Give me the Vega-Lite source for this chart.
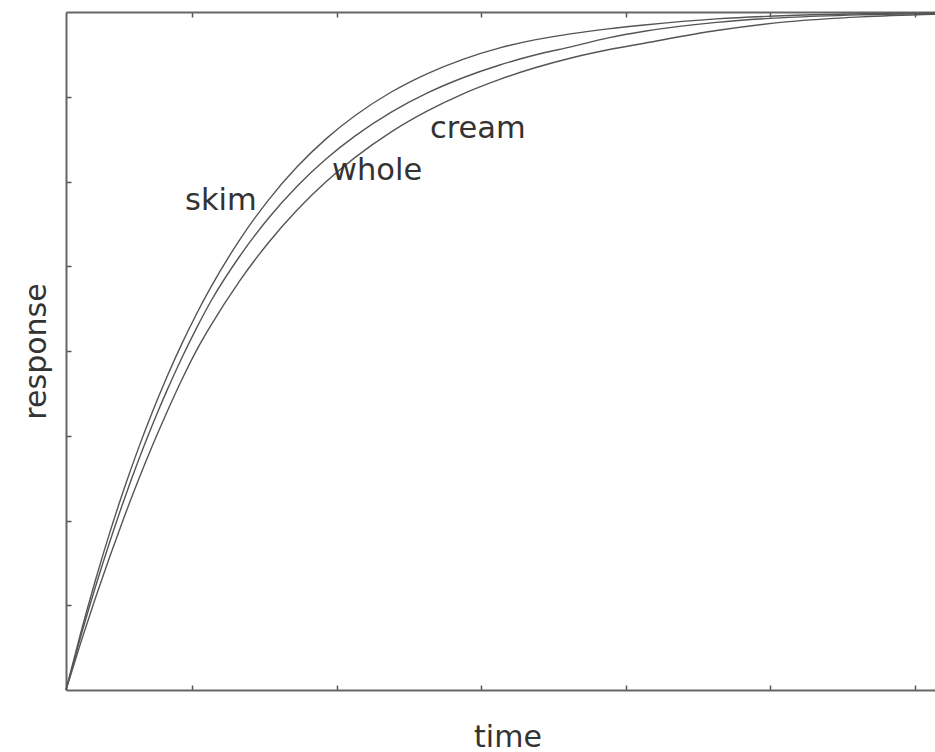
{
  "$schema": "https://vega.github.io/schema/vega-lite/v6.json",
  "width": 869,
  "height": 678,
  "autosize": "none",
  "padding": {"left": 66, "top": 12, "right": 0, "bottom": 62},
  "background": "white",
  "config": {"view": {"stroke": null}, "font": "DejaVu Sans"},
  "datasets": {
    "curves": [
      {"series": "skim", "t": 0, "v": 0},
      {"series": "skim", "t": 0.1, "v": 0.662},
      {"series": "skim", "t": 0.2, "v": 1.275},
      {"series": "skim", "t": 0.3, "v": 1.842},
      {"series": "skim", "t": 0.4, "v": 2.365},
      {"series": "skim", "t": 0.5, "v": 2.848},
      {"series": "skim", "t": 0.6, "v": 3.293},
      {"series": "skim", "t": 0.7, "v": 3.703},
      {"series": "skim", "t": 0.8, "v": 4.081},
      {"series": "skim", "t": 0.9, "v": 4.428},
      {"series": "skim", "t": 1.0, "v": 4.747},
      {"series": "skim", "t": 1.2, "v": 5.309},
      {"series": "skim", "t": 1.4, "v": 5.781},
      {"series": "skim", "t": 1.6, "v": 6.176},
      {"series": "skim", "t": 1.8, "v": 6.506},
      {"series": "skim", "t": 2.0, "v": 6.779},
      {"series": "skim", "t": 2.25, "v": 7.056},
      {"series": "skim", "t": 2.5, "v": 7.274},
      {"series": "skim", "t": 2.75, "v": 7.445},
      {"series": "skim", "t": 3.0, "v": 7.577},
      {"series": "skim", "t": 3.25, "v": 7.674},
      {"series": "skim", "t": 3.5, "v": 7.745},
      {"series": "skim", "t": 3.75, "v": 7.801},
      {"series": "skim", "t": 4.0, "v": 7.847},
      {"series": "skim", "t": 4.5, "v": 7.919},
      {"series": "skim", "t": 5.0, "v": 7.958},
      {"series": "skim", "t": 5.5, "v": 7.979},
      {"series": "skim", "t": 6.01, "v": 7.989},
      {"series": "whole", "t": 0, "v": 0},
      {"series": "whole", "t": 0.1, "v": 0.619},
      {"series": "whole", "t": 0.2, "v": 1.197},
      {"series": "whole", "t": 0.3, "v": 1.735},
      {"series": "whole", "t": 0.4, "v": 2.237},
      {"series": "whole", "t": 0.5, "v": 2.704},
      {"series": "whole", "t": 0.6, "v": 3.138},
      {"series": "whole", "t": 0.7, "v": 3.541},
      {"series": "whole", "t": 0.8, "v": 3.914},
      {"series": "whole", "t": 0.9, "v": 4.261},
      {"series": "whole", "t": 1.0, "v": 4.581},
      {"series": "whole", "t": 1.2, "v": 5.115},
      {"series": "whole", "t": 1.4, "v": 5.566},
      {"series": "whole", "t": 1.6, "v": 5.947},
      {"series": "whole", "t": 1.8, "v": 6.268},
      {"series": "whole", "t": 2.0, "v": 6.538},
      {"series": "whole", "t": 2.25, "v": 6.818},
      {"series": "whole", "t": 2.5, "v": 7.045},
      {"series": "whole", "t": 2.75, "v": 7.227},
      {"series": "whole", "t": 3.0, "v": 7.375},
      {"series": "whole", "t": 3.25, "v": 7.495},
      {"series": "whole", "t": 3.5, "v": 7.592},
      {"series": "whole", "t": 3.75, "v": 7.694},
      {"series": "whole", "t": 4.0, "v": 7.773},
      {"series": "whole", "t": 4.5, "v": 7.878},
      {"series": "whole", "t": 5.0, "v": 7.937},
      {"series": "whole", "t": 5.5, "v": 7.967},
      {"series": "whole", "t": 6.01, "v": 7.983},
      {"series": "cream", "t": 0, "v": 0},
      {"series": "cream", "t": 0.1, "v": 0.547},
      {"series": "cream", "t": 0.2, "v": 1.067},
      {"series": "cream", "t": 0.3, "v": 1.561},
      {"series": "cream", "t": 0.4, "v": 2.03},
      {"series": "cream", "t": 0.5, "v": 2.474},
      {"series": "cream", "t": 0.6, "v": 2.893},
      {"series": "cream", "t": 0.7, "v": 3.287},
      {"series": "cream", "t": 0.8, "v": 3.658},
      {"series": "cream", "t": 0.9, "v": 3.999},
      {"series": "cream", "t": 1.0, "v": 4.296},
      {"series": "cream", "t": 1.2, "v": 4.825},
      {"series": "cream", "t": 1.4, "v": 5.278},
      {"series": "cream", "t": 1.6, "v": 5.666},
      {"series": "cream", "t": 1.8, "v": 5.999},
      {"series": "cream", "t": 2.0, "v": 6.285},
      {"series": "cream", "t": 2.25, "v": 6.586},
      {"series": "cream", "t": 2.5, "v": 6.833},
      {"series": "cream", "t": 2.75, "v": 7.038},
      {"series": "cream", "t": 3.0, "v": 7.206},
      {"series": "cream", "t": 3.25, "v": 7.345},
      {"series": "cream", "t": 3.5, "v": 7.46},
      {"series": "cream", "t": 3.75, "v": 7.554},
      {"series": "cream", "t": 4.0, "v": 7.632},
      {"series": "cream", "t": 4.5, "v": 7.781},
      {"series": "cream", "t": 5.0, "v": 7.886},
      {"series": "cream", "t": 5.5, "v": 7.943},
      {"series": "cream", "t": 6.01, "v": 7.974}
    ],
    "labels": [
      {"label": "skim", "t": 0.823, "v": 5.664},
      {"label": "whole", "t": 1.84, "v": 6.018},
      {"label": "cream", "t": 2.517, "v": 6.513}
    ]
  },
  "layer": [
    {
      "data": {"name": "curves"},
      "mark": {"type": "line", "interpolate": "monotone", "color": "#555", "strokeWidth": 1.4},
      "encoding": {
        "x": {
          "field": "t", "type": "quantitative",
          "scale": {"domain": [0, 6.01], "nice": false, "zero": false},
          "axis": {
            "orient": "bottom", "title": "time",
            "values": [0.871, 1.871, 2.871, 3.871, 4.871, 5.871],
            "labels": false, "grid": false,
            "tickSize": -5, "tickColor": "#555", "tickWidth": 1.5,
            "domainColor": "#666", "domainWidth": 2,
            "titleFontSize": 30, "titleFontWeight": "normal", "titleColor": "#333",
            "titleFont": "DejaVu Sans",
            "titleX": 441.5, "titleY": 56, "titleAlign": "center", "titleBaseline": "alphabetic"
          }
        },
        "y": {
          "field": "v", "type": "quantitative",
          "scale": {"domain": [0, 8], "nice": false},
          "axis": {
            "title": "response",
            "values": [1, 2, 3, 4, 5, 6, 7],
            "labels": false, "grid": false,
            "tickSize": -5, "tickColor": "#555", "tickWidth": 1.5,
            "domainColor": "#666", "domainWidth": 2,
            "titleFontSize": 30, "titleFontWeight": "normal", "titleColor": "#333",
            "titleFont": "DejaVu Sans",
            "titleAngle": 270, "titleX": -21, "titleY": 339, "titleAlign": "center", "titleBaseline": "alphabetic"
          }
        },
        "detail": {"field": "series"}
      }
    },
    {
      "data": {"name": "labels"},
      "mark": {"type": "text", "align": "left", "baseline": "alphabetic", "fontSize": 30.5, "color": "#333", "font": "DejaVu Sans"},
      "encoding": {
        "x": {
          "field": "t", "type": "quantitative",
          "axis": {
            "orient": "top", "title": null,
            "values": [0.871, 1.871, 2.871, 3.871, 4.871, 5.871],
            "labels": false, "grid": false,
            "tickSize": -5, "tickColor": "#555", "tickWidth": 1.5,
            "domainColor": "#666", "domainWidth": 2
          }
        },
        "y": {"field": "v", "type": "quantitative", "axis": null},
        "text": {"field": "label"}
      }
    }
  ],
  "resolve": {"axis": {"x": "independent", "y": "independent"}}
}
